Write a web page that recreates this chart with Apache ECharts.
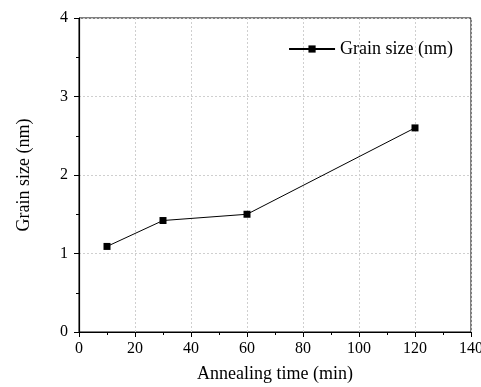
<!DOCTYPE html>
<html>
<head>
<meta charset="utf-8">
<script src="https://cdn.jsdelivr.net/npm/echarts@6/dist/echarts.min.js"></script>
<style>
  html, body { margin: 0; padding: 0; background: #fff; }
  #main { width: 481px; height: 387px; }
</style>
</head>
<body>
<div id="main"></div>
<script>
var annealTimes = [10, 30, 60, 120];
var grainSizes = [1.09, 1.42, 1.5, 2.6];
var seriesName = "Grain size (nm)";

var font = "'Liberation Serif', 'DejaVu Serif', serif";

var chart = echarts.init(document.getElementById("main"));

var option = {
  animation: false,
  grid: {
    left: 79,
    right: 10,
    top: 18,
    bottom: 55,
    outerBoundsMode: "none",
    containLabel: false,
    show: true,
    borderColor: "#000",
    borderWidth: 1,
  },
  legend: {
    data: [seriesName],
    right: 23,
    top: 35,
    itemWidth: 46,
    itemHeight: 9,
    itemGap: 4,
    textStyle: { fontFamily: font, fontSize: 18, color: "#000" },
  },
  xAxis: {
    type: "value",
    min: 0,
    max: 140,
    interval: 20,
    name: "Annealing time (min)",
    nameLocation: "middle",
    nameGap: 33,
    nameTextStyle: { fontFamily: font, fontSize: 18, color: "#000" },
    axisLine: { onZero: false, lineStyle: { color: "#000", width: 1.2 } },
    axisTick: { show: true, inside: false, length: 5, lineStyle: { color: "#000" } },
    minorTick: { show: true, splitNumber: 2, length: 3, lineStyle: { color: "#000" } },
    axisLabel: { fontFamily: font, fontSize: 16, color: "#000", margin: 9 },
    splitLine: { show: true, lineStyle: { color: "#cfcfcf", type: [2, 2], width: 1 } },
  },
  yAxis: {
    type: "value",
    min: 0,
    max: 4,
    interval: 1,
    name: "Grain size (nm)",
    nameLocation: "middle",
    nameGap: 46,
    nameTextStyle: { fontFamily: font, fontSize: 18, color: "#000" },
    axisLine: { show: true, onZero: false, lineStyle: { color: "#000", width: 1.2 } },
    axisTick: { show: true, inside: false, length: 5, lineStyle: { color: "#000" } },
    minorTick: { show: true, splitNumber: 2, length: 3, lineStyle: { color: "#000" } },
    axisLabel: { fontFamily: font, fontSize: 16, color: "#000", margin: 11 },
    splitLine: { show: true, lineStyle: { color: "#cfcfcf", type: [2, 2], width: 1 } },
  },
  series: [
    {
      name: seriesName,
      type: "line",
      data: annealTimes.map(function (t, i) {
        return [t, grainSizes[i]];
      }),
      symbol: "rect",
      symbolSize: 7,
      itemStyle: { color: "#000" },
      lineStyle: { color: "#000", width: 1 },
    },
  ],
};

chart.setOption(option);
</script>
</body>
</html>
